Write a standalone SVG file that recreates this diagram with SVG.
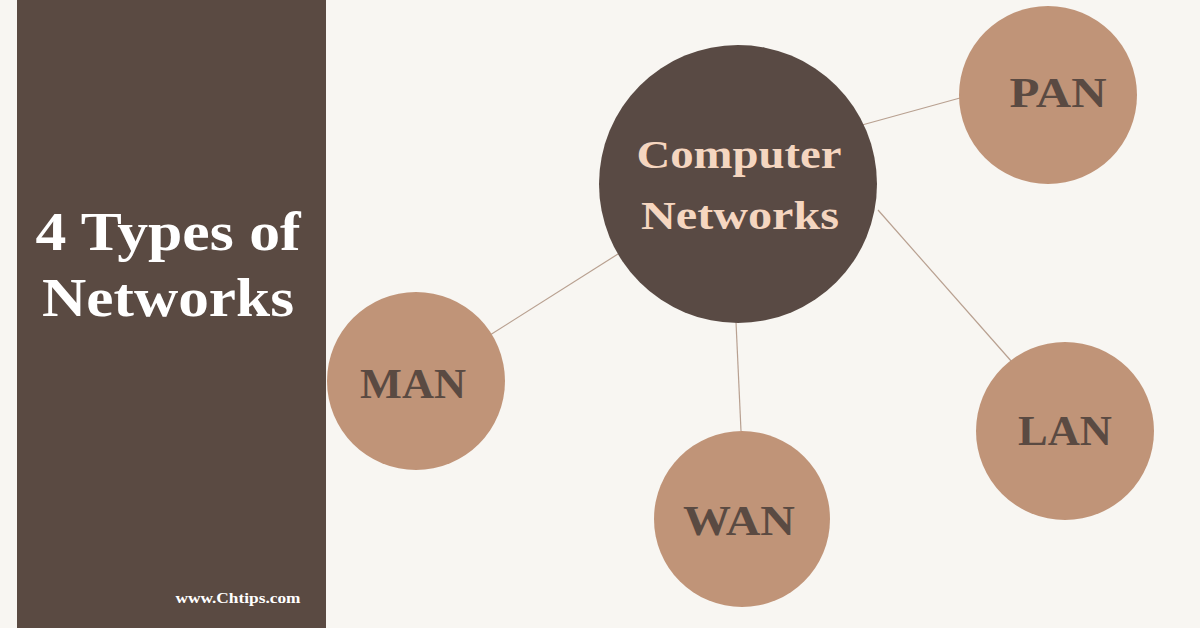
<svg xmlns="http://www.w3.org/2000/svg" width="1200" height="628" viewBox="0 0 1200 628">
<style>
.t{font-family:"Liberation Serif",serif;font-weight:bold;text-anchor:middle}
.s{fill:#c09478}
.l{fill:#5a4a42;font-size:42px}
</style>
<rect width="1200" height="628" fill="#f8f6f2"/>
<rect x="17" y="0" width="309" height="628" fill="#5a4a42"/>
<text class="t" x="168" y="250" font-size="55" fill="#fff" textLength="265" lengthAdjust="spacingAndGlyphs">4 Types of</text>
<text class="t" x="168" y="316" font-size="55" fill="#fff" textLength="252" lengthAdjust="spacingAndGlyphs">Networks</text>
<text class="t" x="238" y="603" font-size="15" fill="#fff" textLength="125" lengthAdjust="spacingAndGlyphs">www.Chtips.com</text>
<g id="connectors" stroke="#b8a090" stroke-width="1.2">
<line x1="862" y1="125" x2="960" y2="98"/>
<line x1="878" y1="210" x2="1012" y2="362"/>
<line x1="736" y1="322" x2="741" y2="431"/>
<line x1="618" y1="254" x2="490" y2="335"/>
</g>
<g id="center"><circle cx="738" cy="184" r="139" fill="#594a44"/>
<text class="t" x="739" y="168" font-size="40" fill="#f5d6c0" textLength="205" lengthAdjust="spacingAndGlyphs">Computer</text>
<text class="t" x="740" y="229" font-size="40" fill="#f5d6c0" textLength="198" lengthAdjust="spacingAndGlyphs">Networks</text></g>
<g id="pan"><circle class="s" cx="1048" cy="95" r="89"/><text class="t l" x="1058" y="107" textLength="97" lengthAdjust="spacingAndGlyphs">PAN</text></g>
<g id="lan"><circle class="s" cx="1065" cy="431" r="89"/><text class="t l" x="1065" y="445" textLength="94" lengthAdjust="spacingAndGlyphs">LAN</text></g>
<g id="wan"><circle class="s" cx="742" cy="519" r="88"/><text class="t l" x="739" y="535" textLength="112" lengthAdjust="spacingAndGlyphs">WAN</text></g>
<g id="man"><circle class="s" cx="416" cy="381" r="89"/><text class="t l" x="413" y="398" textLength="106" lengthAdjust="spacingAndGlyphs">MAN</text></g>
</svg>
